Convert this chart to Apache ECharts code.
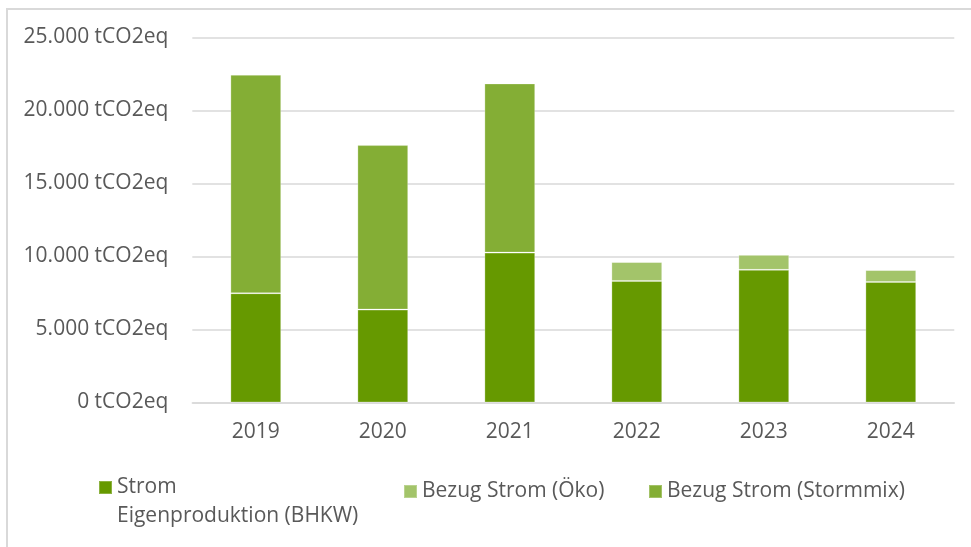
<!DOCTYPE html>
<html>
<head>
<meta charset="utf-8">
<script src="https://cdn.jsdelivr.net/npm/echarts@6/dist/echarts.min.js"></script>
<style>
html,body{margin:0;padding:0;background:#fff;}
#chart{width:971px;height:547px;}
</style>
</head>
<body>
<div id="chart"></div>
<script>
const categories = ['2019', '2020', '2021', '2022', '2023', '2024'];
const seriesNames = ['Strom Eigenproduktion (BHKW)', 'Bezug Strom (Öko)', 'Bezug Strom (Stormmix)'];
const bhkw = [7480, 6360, 10260, 8320, 9080, 8250];
const oeko = [0, 0, 0, 1300, 1030, 820];
const stormmix = [14950, 11260, 11580, 0, 0, 0];
const yTickLabels = ['0 tCO2eq', '5.000 tCO2eq', '10.000 tCO2eq', '15.000 tCO2eq', '20.000 tCO2eq', '25.000 tCO2eq'];

const FONT = 'Open Sans';
const FS = 21;
const TXT = '#595959';
const colors = ['#669900', '#A3C46A', '#84AE35'];

const chart = echarts.init(document.getElementById('chart'), null, {renderer: 'canvas'});

function legendBase(name, left, extra) {
  return Object.assign({
    data: [name],
    left: left,
    top: 481,
    padding: 0,
    itemWidth: 13,
    itemHeight: 13,
    icon: 'rect',
    selectedMode: false,
    textStyle: {fontFamily: FONT, fontSize: FS, color: TXT}
  }, extra || {});
}

const option = {
  animation: false,
  backgroundColor: '#fff',
  color: colors,
  graphic: [{
    type: 'rect',
    shape: {x: 7, y: 9, width: 1000, height: 600},
    style: {fill: 'none', stroke: '#d9d9d9', lineWidth: 2},
    silent: true
  }],
  legend: [
    legendBase(seriesNames[0], 98, {
      top: 444,
      formatter: function () { return ' \nStrom\nEigenproduktion (BHKW)'; },
      textStyle: {fontFamily: FONT, fontSize: FS, color: TXT, lineHeight: 29}
    }),
    legendBase(seriesNames[1], 403),
    legendBase(seriesNames[2], 648)
  ],
  grid: {left: 192.3, right: 16.7, top: 37.3, bottom: 144.5, containLabel: false},
  xAxis: {
    type: 'category',
    data: categories,
    axisLine: {show: true, lineStyle: {color: '#d9d9d9', width: 1.5}},
    axisTick: {show: false},
    axisLabel: {fontFamily: FONT, fontSize: FS, color: TXT, margin: 19}
  },
  yAxis: {
    type: 'value',
    min: 0,
    max: 25000,
    interval: 5000,
    axisLine: {show: false},
    axisTick: {show: false},
    splitLine: {lineStyle: {color: '#d9d9d9', width: 1.5}},
    axisLabel: {
      fontFamily: FONT, fontSize: FS, color: TXT, margin: 24,
      formatter: function (v) { return yTickLabels[Math.round(v / 5000)]; }
    }
  },
  series: [
    {name: seriesNames[0], type: 'bar', stack: 'total', data: bhkw, barWidth: '40%',
     itemStyle: {color: colors[0], borderColor: 'rgba(255,255,255,0.25)', borderWidth: 1}},
    {name: seriesNames[1], type: 'bar', stack: 'total', data: oeko, barWidth: '40%',
     itemStyle: {color: colors[1], borderColor: 'rgba(255,255,255,0.25)', borderWidth: 1}},
    {name: seriesNames[2], type: 'bar', stack: 'total', data: stormmix, barWidth: '40%',
     itemStyle: {color: colors[2], borderColor: 'rgba(255,255,255,0.25)', borderWidth: 1}}
  ]
};
chart.setOption(option);
</script>
</body>
</html>
